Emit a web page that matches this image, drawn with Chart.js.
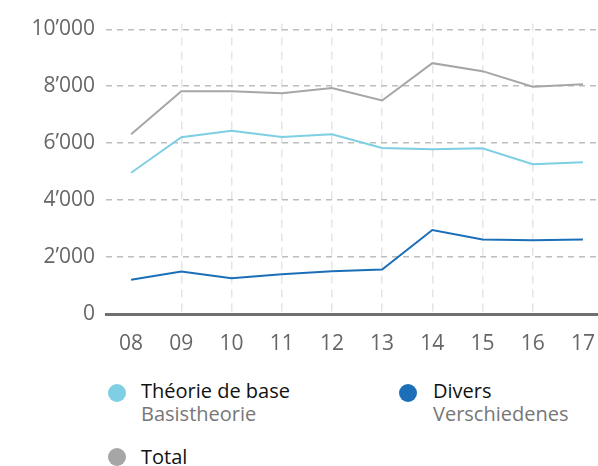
<!DOCTYPE html>
<html>
<head>
<meta charset="utf-8">
<script src="https://cdn.jsdelivr.net/npm/chart.js@4.4.1/dist/chart.umd.min.js"></script>
<style>
  body { margin: 0; background: #fff; font-family: "Open Sans", sans-serif; }
  #wrap { position: relative; width: 598px; height: 466px; }
  #c { position: absolute; left: 0; top: 0; }
  .lg { position: absolute; font-size: 20px; line-height: 23px; color: #111; white-space: nowrap; }
  .lg .sub { color: #777; }
  .dot { position: absolute; width: 18px; height: 18px; border-radius: 50%; }
</style>
</head>
<body>
<div id="wrap">
  <canvas id="c" width="598" height="370"></canvas>
  <div class="dot" style="left:108px;top:384px;background:#7ecfe4"></div>
  <div class="lg" style="left:141px;top:379px">Théorie de base<br><span class="sub">Basistheorie</span></div>
  <div class="dot" style="left:399px;top:384px;background:#1a6fb8"></div>
  <div class="lg" style="left:433px;top:379px">Divers<br><span class="sub">Verschiedenes</span></div>
  <div class="dot" style="left:108px;top:448px;background:#a6a6a6"></div>
  <div class="lg" style="left:141px;top:445px">Total</div>
</div>
<script>
// Données
const years = ['08', '09', '10', '11', '12', '13', '14', '15', '16', '17'];
const theorie = [4960, 6210, 6440, 6220, 6310, 5830, 5790, 5820, 5260, 5330];
const divers = [1200, 1490, 1260, 1400, 1500, 1560, 2950, 2620, 2590, 2620];
const total = [6310, 7820, 7820, 7750, 7940, 7500, 8810, 8530, 7980, 8070];
const yTicks = [0, 2000, 4000, 6000, 8000, 10000];

const toPts = arr => arr.map((v, i) => ({ x: i, y: v }));
const fmt = v => String(v).replace(/\B(?=(\d{3})+(?!\d))/g, '’');

const ctx = document.getElementById('c').getContext('2d');
const chart = new Chart(ctx, {
    type: 'line',
    data: {
        datasets: [
            { label: 'Total', data: toPts(total), borderColor: '#a6a6a6', borderWidth: 2, pointRadius: 0, tension: 0 },
            { label: 'Théorie de base', data: toPts(theorie), borderColor: '#7ecfe4', borderWidth: 2, pointRadius: 0, tension: 0 },
            { label: 'Divers', data: toPts(divers), borderColor: '#1a6fb8', borderWidth: 2, pointRadius: 0, tension: 0 }
        ]
    },
    options: {
        responsive: false,
        animation: false,
        layout: { padding: { top: 18, right: 0, left: 0, bottom: 0 } },
        plugins: { legend: { display: false }, tooltip: { enabled: false } },
        scales: {
            x: {
                type: 'linear',
                min: -0.5,
                max: 9.3,
                afterBuildTicks: s => { s.ticks = years.map((_, i) => ({ value: i })); },
                afterFit: s => { s.height = 56; s.paddingLeft = 0; s.paddingRight = 0; },
                border: { display: true, color: '#707070', width: 3, dash: [8, 6] },
                grid: {
                    drawTicks: false,
                    color: c => (c.tick && c.tick.value > 0 && c.tick.value < 9) ? '#e5e5e5' : 'rgba(0,0,0,0)',
                    lineWidth: 1.5
                },
                ticks: {
                    padding: 17,
                    color: '#666',
                    font: { family: 'Open Sans', size: 21 },
                    callback: v => years[v]
                }
            },
            y: {
                min: 0,
                max: 10200,
                afterBuildTicks: s => { s.ticks = yTicks.map(v => ({ value: v })); },
                afterFit: s => { s.width = 106; },
                border: { display: false, dash: [6, 5] },
                grid: { drawTicks: false, color: '#bdbdbd', lineWidth: 1.5 },
                ticks: {
                    padding: 11,
                    color: '#666',
                    font: { family: 'Open Sans', size: 21 },
                    callback: v => fmt(v)
                }
            }
        }
    }
});
</script>
</body>
</html>
